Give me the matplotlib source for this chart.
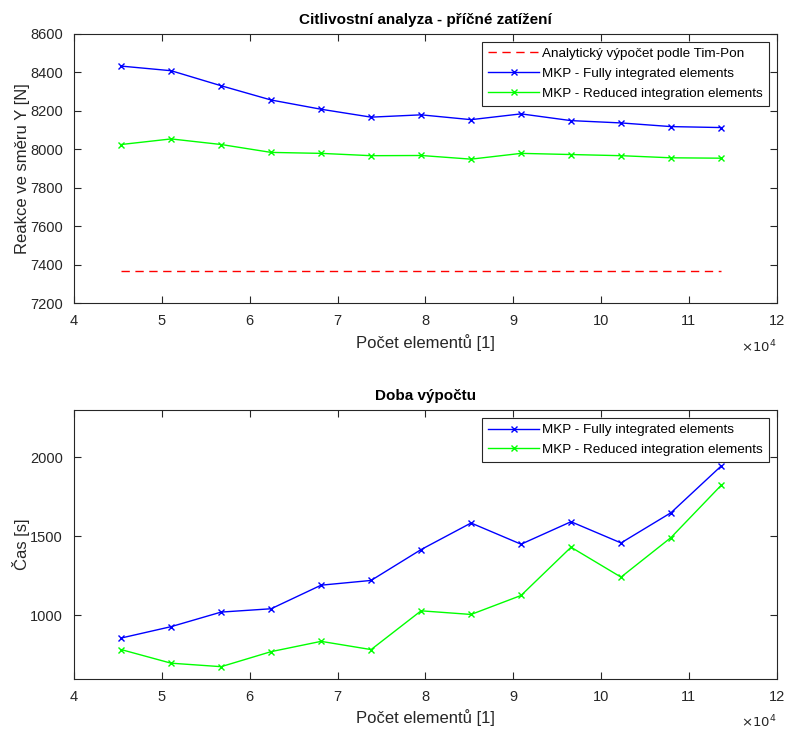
import matplotlib
matplotlib.use("Agg")
import matplotlib.pyplot as plt
from matplotlib.ticker import FuncFormatter

plt.rcParams['font.family'] = ['Liberation Sans', 'DejaVu Sans']
plt.rcParams['font.size'] = 10

# pocet elementu
elements = [45370, 51060, 56750, 62440, 68130, 73820, 79510, 85200,
            90890, 96580, 102270, 107960, 113650]

# reakce [N]
react_full = [8431, 8407, 8329, 8255, 8207, 8166, 8178, 8153, 8183, 8148, 8136, 8117, 8112]
react_reduced = [8024, 8053, 8024, 7983, 7978, 7966, 7967, 7948, 7978, 7972, 7966, 7955, 7953]
react_analytic = 7368

# cas [s]
time_full = [857, 929, 1021, 1042, 1191, 1221, 1416, 1584, 1450, 1592, 1458, 1649, 1943]
time_reduced = [784, 698, 676, 771, 836, 784, 1029, 1006, 1126, 1431, 1242, 1492, 1821]

dark = (0.15, 0.15, 0.15)

fig = plt.figure(figsize=(7.87, 7.29), dpi=100)
ax1 = fig.add_axes([0.094, 0.584, 0.893, 0.370])
ax2 = fig.add_axes([0.094, 0.069, 0.893, 0.369])

# horni graf
ax1.plot([elements[0], elements[-1]], [react_analytic, react_analytic], color="red",
         linestyle=(0, (6, 4)), linewidth=1, label="Analytický výpočet podle Tim-Pon")
ax1.plot(elements, react_full, color="blue", marker="x", markersize=5, linewidth=1,
         label="MKP - Fully integrated elements")
ax1.plot(elements, react_reduced, color="lime", marker="x", markersize=5, linewidth=1,
         label="MKP - Reduced integration elements")
ax1.set_ylim(7200, 8600)
ax1.set_yticks(range(7200, 8601, 200))
ax1.set_title("Citlivostní analyza - příčné zatížení", fontweight="bold", fontsize=11, pad=7)
ax1.set_ylabel("Reakce ve směru Y [N]", fontsize=12, color=dark, labelpad=0)

# dolni graf
ax2.plot(elements, time_full, color="blue", marker="x", markersize=5, linewidth=1,
         label="MKP - Fully integrated elements")
ax2.plot(elements, time_reduced, color="lime", marker="x", markersize=5, linewidth=1,
         label="MKP - Reduced integration elements")
ax2.set_ylim(600, 2300)
ax2.set_yticks([1000, 1500, 2000])
ax2.set_title("Doba výpočtu", fontweight="bold", fontsize=11, pad=7)
ax2.set_ylabel("Čas [s]", fontsize=12, color=dark, labelpad=0)

for ax in (ax1, ax2):
    ax.set_xlim(40000, 120000)
    ax.set_xticks(range(40000, 120001, 10000))
    ax.xaxis.set_major_formatter(FuncFormatter(lambda v, p: f"{v / 1e4:g}"))
    ax.set_xlabel("Počet elementů [1]", fontsize=12, color=dark, labelpad=4)
    ax.tick_params(direction="in", top=True, right=True, colors=dark, labelsize=10.5,
                   length=5, pad=8)
    for s in ax.spines.values():
        s.set_color(dark)
        s.set_linewidth(0.8)
    ax.text(1.0, -0.13, r"$\times10^4$", transform=ax.transAxes, ha="right", va="top",
            fontsize=9.5, color=dark)
    leg = ax.legend(loc="upper right", fancybox=False, edgecolor=dark, framealpha=1,
                    fontsize=9.7, borderpad=0.45, labelspacing=0.55, handlelength=3.8,
                    handletextpad=0.2, borderaxespad=0.6)
    leg.get_frame().set_linewidth(0.8)

fig.savefig("out.png", dpi=100)
